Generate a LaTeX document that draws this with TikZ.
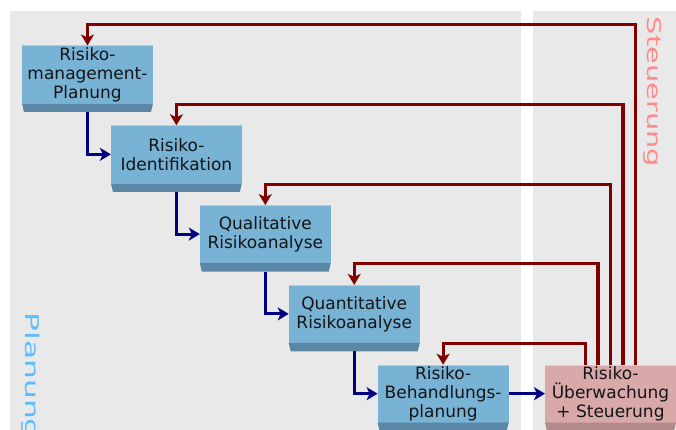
\documentclass[tikz,border=0pt]{standalone}
\usepackage{fontspec}
\setmainfont{DejaVu Sans}
\usetikzlibrary{arrows.meta}

\definecolor{panelgrey}{HTML}{E9E9E9}
\definecolor{boxblue}{HTML}{78B2D4}
\definecolor{boxblueedge}{HTML}{A6D0EA}
\definecolor{bandblue}{HTML}{5A87A5}
\definecolor{boxpink}{HTML}{D9A9AA}
\definecolor{boxpinkedge}{HTML}{EBC6C7}
\definecolor{bandpink}{HTML}{B28A8C}
\definecolor{flowblue}{HTML}{000080}
\definecolor{backred}{HTML}{800000}
\definecolor{labelred}{HTML}{FF8A8A}
\definecolor{labelblue}{HTML}{5BBDFF}
\definecolor{textdark}{HTML}{151515}

\tikzset{
  stepbox/.style={rectangle, fill=boxblue, minimum width=131pt, minimum height=58pt,
    inner sep=0pt, outer sep=0pt, align=center, text=textdark,
    font=\fontsize{17}{19}\selectfont},
  controlbox/.style={stepbox, fill=boxpink},
  flowline/.style={draw=flowblue, line width=3.1pt, line join=miter,
    -{Stealth[length=11pt,width=13pt,inset=3pt]}},
  backline/.style={draw=backred, line width=3.1pt, line join=miter,
    -{Stealth[length=11pt,width=13pt,inset=3pt]}},
  sidelabel/.style={rotate=-90, anchor=base west, inner sep=0pt, outer sep=0pt}
}

\newcommand{\boxband}[2]{%
  \fill[#2] (#1.south west) -- (#1.south east)
    -- ([xshift=-2pt,yshift=-8.5pt]#1.south east)
    -- ([xshift=2pt,yshift=-8.5pt]#1.south west) -- cycle;}
\newcommand{\boxrim}[2]{%
  \draw[#2, line width=0.8pt] ([yshift=-0.4pt]#1.north west) -- ([yshift=-0.4pt]#1.north east);}

\begin{document}
\begin{tikzpicture}[x=1pt, y=-1pt]
  \clip (0,0) rectangle (676,430);
  \fill[white] (0,0) rectangle (676,430);

  % two panels: planning and control
  \fill[panelgrey] (10,11) rectangle (521,430);
  \fill[panelgrey] (533,11) rectangle (676,430);

  \node[sidelabel, text=labelblue, font=\fontsize{19}{21}\selectfont]
    (planlabel) at (25,312.5) {\scalebox{1.65}[1]{Planung}};
  \node[sidelabel, text=labelred, font=\fontsize{19}{21}\selectfont]
    (ctrllabel) at (647.5,17) {\scalebox{1.52}[1]{Steuerung}};

  % process steps
  \node[stepbox] (b1) at (87.5,74.5)   {Risiko-\\management-\\Planung};
  \node[stepbox] (b2) at (176.4,154.3) {Risiko-\\Identifikation};
  \node[stepbox] (b3) at (265.3,234.1) {Qualitative\\Risikoanalyse};
  \node[stepbox] (b4) at (354.2,313.9) {Quantitative\\Risikoanalyse};
  \node[stepbox] (b5) at (443.1,393.7) {Risiko-\\Behandlungs-\\planung};
  \node[controlbox] (b6) at (610.5,393.7) {Risiko-\\Überwachung\\+ Steuerung};

  % bevelled lower edges of the boxes
  \foreach \b in {b1,b2,b3,b4,b5} {\boxband{\b}{bandblue}\boxrim{\b}{boxblueedge}}
  \boxband{b6}{bandpink}\boxrim{b6}{boxpinkedge}

  % forward flow
  \draw[flowline] ([yshift=-8.5pt]b1.south) |- (b2.west);
  \draw[flowline] ([yshift=-8.5pt]b2.south) |- (b3.west);
  \draw[flowline] ([yshift=-8.5pt]b3.south) |- (b4.west);
  \draw[flowline] ([yshift=-8.5pt]b4.south) |- (b5.west);
  \draw[flowline] (b5.east) -- (b6.west);

  % feedback from monitoring and control
  \draw[backline] ([xshift=-25pt]b6.north)   |- ([yshift=21pt]b5.north) -- (b5.north);
  \draw[backline] ([xshift=-12.5pt]b6.north) |- ([yshift=21pt]b4.north) -- (b4.north);
  \draw[backline] (b6.north)                 |- ([yshift=21pt]b3.north) -- (b3.north);
  \draw[backline] ([xshift=12.5pt]b6.north)  |- ([yshift=21pt]b2.north) -- (b2.north);
  \draw[backline] ([xshift=25pt]b6.north)    |- ([yshift=21pt]b1.north) -- (b1.north);
\end{tikzpicture}
\end{document}
